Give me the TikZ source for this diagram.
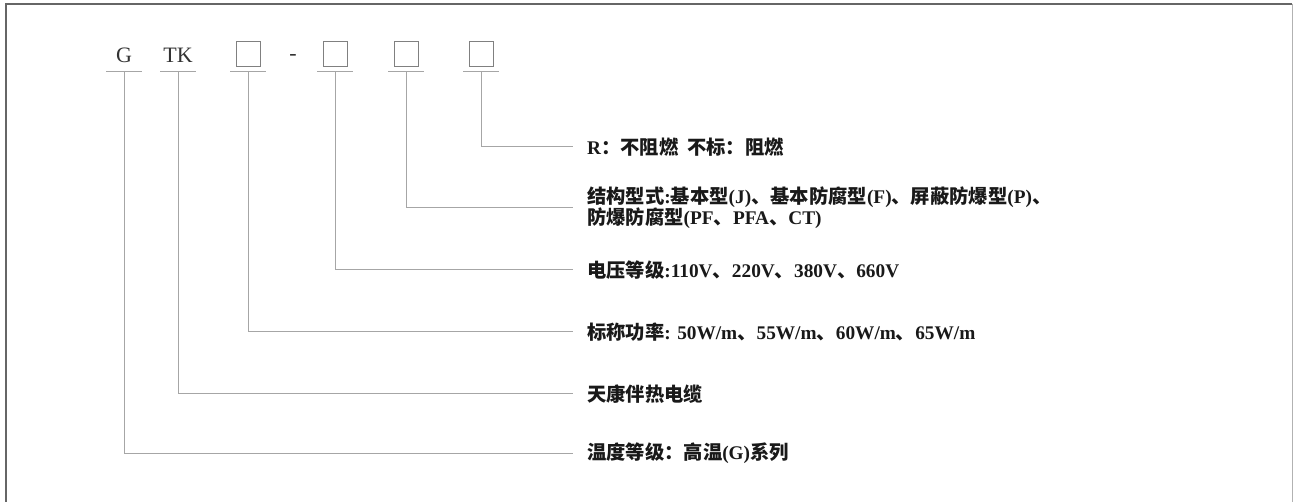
\documentclass[tikz,border=0pt]{standalone}
\usepackage{fontspec}
\setmainfont{Liberation Serif}
\newfontfamily\cjk{Noto Sans CJK SC}
\newcommand{\zh}[1]{{\cjk\bfseries #1}}
\begin{document}
\begin{tikzpicture}[x=1pt,y=-1pt,
  lead/.style={draw=black!35,line width=1pt},
  codebox/.style={draw=black!50,line width=0.9pt,minimum width=24pt,minimum height=25pt,inner sep=0pt},
  codetxt/.style={text=black!80,font=\fontsize{22}{24}\selectfont,inner sep=0pt},
  desc/.style={anchor=west,inner sep=0pt,text=black!90,font=\fontsize{19.3}{21}\selectfont\bfseries,align=left}]
\useasboundingbox (0,0) rectangle (1293,502);
\fill[white] (0,0) rectangle (1293,502);
% frame
\draw[black!60,line width=2pt] (6,504) -- (6,4) -- (1292,4);
\draw[black!30,line width=1pt] (1292,4) -- (1292,504);
% header
\node[codetxt] (g) at (124,55) {G};
\node[codetxt] (tk) at (178,55) {TK};
\node[codebox] (b1) at (248,54) {};
\node[codetxt,anchor=base] (dash) at (293,61) {-};
\node[codebox] (b2) at (335,54) {};
\node[codebox] (b3) at (406,54) {};
\node[codebox] (b4) at (481,54) {};
% underline centres
\coordinate (ug) at (124,72);
\coordinate (utk) at (178,72);
\coordinate (ub1) at (248,72);
\coordinate (ub2) at (335,72);
\coordinate (ub3) at (406,72);
\coordinate (ub4) at (481,72);
\foreach \c in {ug,utk,ub1,ub2,ub3,ub4}
  \draw[lead] ([xshift=-18pt]\c) -- ([xshift=18pt]\c);
% descriptions
\node[desc] (lr) at (587,147) {R\zh{：不阻燃\ \ 不标：阻燃}};
\node[desc] (ls) at (587,208) {\zh{结构型式}:\zh{基本型}(J)\zh{、基本防腐型}(F)\zh{、屏蔽防爆型}(P)\zh{、}\\\zh{防爆防腐型}(PF\zh{、}PFA\zh{、}CT)};
\node[desc] (lv) at (587,270) {\zh{电压等级}:110V\zh{、}220V\zh{、}380V\zh{、}660V};
\node[desc] (lp) at (587,332) {\zh{标称功率}: 50W/m\zh{、}55W/m\zh{、}60W/m\zh{、}65W/m};
\node[desc] (lt) at (587,394) {\zh{天康伴热电缆}};
\node[desc] (lg) at (587,453) {\zh{温度等级：高温}(G)\zh{系列}};
% connectors
\draw[lead] (ub4) |- ([xshift=-14pt]lr.west);
\draw[lead] (ub3) |- ([xshift=-14pt]ls.west);
\draw[lead] (ub2) |- ([xshift=-14pt]lv.west);
\draw[lead] (ub1) |- ([xshift=-14pt]lp.west);
\draw[lead] (utk) |- ([xshift=-14pt]lt.west);
\draw[lead] (ug) |- ([xshift=-14pt]lg.west);
\end{tikzpicture}
\end{document}
